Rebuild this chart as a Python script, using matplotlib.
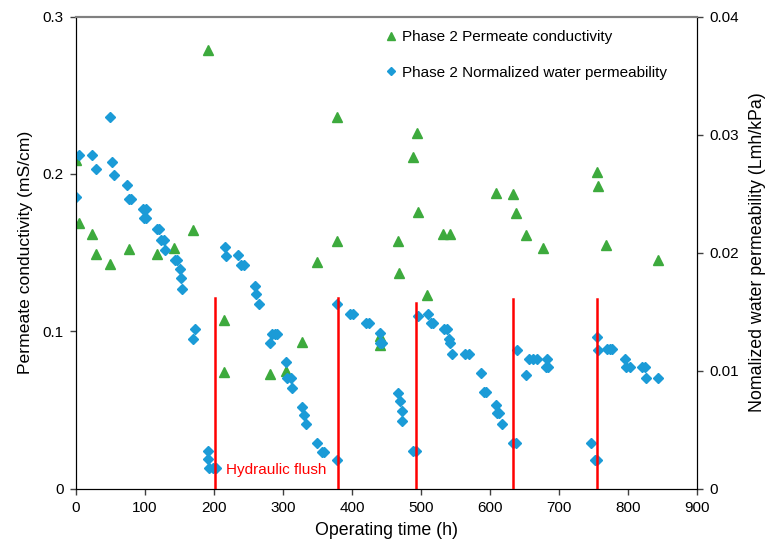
import matplotlib
matplotlib.use("Agg")
import matplotlib.pyplot as plt
from matplotlib.ticker import FuncFormatter, MultipleLocator

plt.rcParams['font.family'] = ['Liberation Sans', 'DejaVu Sans']

# ==============================
# Data
# ==============================

cond_time = [0, 5, 23, 29, 49, 77, 118, 142, 170, 191, 214, 215, 281, 305, 327,
             350, 378, 379, 441, 441, 466, 468, 488, 494, 495, 509, 532, 542,
             609, 634, 638, 652, 677, 755, 757, 768, 844]
cond_value = [0.209, 0.169, 0.162, 0.149, 0.143, 0.152, 0.149, 0.153, 0.164, 0.279,
              0.107, 0.074, 0.073, 0.075, 0.093, 0.144, 0.236, 0.157, 0.097, 0.091,
              0.157, 0.137, 0.211, 0.226, 0.176, 0.123, 0.162, 0.162, 0.188, 0.187,
              0.175, 0.161, 0.153, 0.201, 0.192, 0.155, 0.145]

perm_time = [0, 5, 23, 29, 49, 52, 55, 74, 77, 80, 97, 101, 98, 102, 118, 121, 123,
             127, 129, 143, 147, 151, 152, 154, 170, 172, 191, 191, 193, 198, 203,
             216, 218, 235, 239, 243, 259, 261, 265, 281, 284, 288, 292, 305, 306,
             311, 313, 327, 330, 333, 350, 356, 360, 378, 379, 397, 401, 421, 425,
             441, 441, 444, 467, 469, 472, 473, 488, 493, 495, 510, 514, 518, 534,
             537, 541, 542, 545, 564, 569, 587, 592, 594, 609, 610, 613, 618, 634,
             638, 639, 652, 656, 663, 668, 682, 681, 684, 747, 752, 755, 755, 756,
             769, 774, 777, 795, 797, 803, 820, 824, 826, 844]
perm_value = [0.0247, 0.0283, 0.0283, 0.0271, 0.0315, 0.0277, 0.0266, 0.0257, 0.0245,
              0.0245, 0.0237, 0.0237, 0.0229, 0.0229, 0.0220, 0.0220, 0.0211, 0.0211,
              0.0202, 0.0194, 0.0194, 0.0186, 0.0178, 0.0169, 0.0127, 0.0135, 0.0032,
              0.0025, 0.0017, 0.0017, 0.0017, 0.0205, 0.0197, 0.0198, 0.0189, 0.0189,
              0.0172, 0.0165, 0.0156, 0.0123, 0.0131, 0.0131, 0.0131, 0.0107, 0.0094,
              0.0094, 0.0085, 0.0069, 0.0062, 0.0055, 0.0039, 0.0031, 0.0031, 0.0024,
              0.0156, 0.0148, 0.0148, 0.0140, 0.0140, 0.0132, 0.0123, 0.0123, 0.0081,
              0.0074, 0.0066, 0.0057, 0.0032, 0.0032, 0.0146, 0.0148, 0.0140, 0.0140,
              0.0135, 0.0135, 0.0127, 0.0123, 0.0114, 0.0114, 0.0114, 0.0098, 0.0082,
              0.0082, 0.0071, 0.0064, 0.0064, 0.0055, 0.0039, 0.0039, 0.0117, 0.0096,
              0.0110, 0.0110, 0.0110, 0.0110, 0.0103, 0.0103, 0.0039, 0.0024, 0.0024,
              0.0128, 0.0117, 0.0118, 0.0118, 0.0118, 0.0110, 0.0103, 0.0103, 0.0103,
              0.0103, 0.0094, 0.0094]

# hydraulic flush markers (time, top in mS/cm)
flush_time = [202, 380, 493, 633, 755]
flush_top = [0.1214, 0.1214, 0.1178, 0.1206, 0.1204]

GREEN = "#3daa3d"
BLUE = "#1b9bd7"

# ==============================
# Plot
# ==============================

fig = plt.figure(figsize=(7.66, 5.41), dpi=100)
ax = fig.add_axes([0.0992, 0.097, 0.8107, 0.8725])
ax2 = ax.twinx()

h1, = ax.plot(cond_time, cond_value, linestyle="none", marker="^", markersize=7,
              color=GREEN, label="Phase 2 Permeate conductivity")
h2, = ax2.plot(perm_time, perm_value, linestyle="none", marker="D", markersize=4.6,
               color=BLUE, label="Phase 2 Normalized water permeability")

for t, top in zip(flush_time, flush_top):
    ax2.plot([t, t], [0.0, top * 0.04 / 0.3], color="#ff0000", linewidth=1.8)

ax.text(218, 0.0118, "Hydraulic flush", color="#ff0000", fontsize=11, va="center")

ax.set_xlim(0, 900)
ax.set_ylim(0, 0.3)
ax2.set_ylim(0, 0.04)
ax.xaxis.set_major_locator(MultipleLocator(100))
ax.yaxis.set_major_locator(MultipleLocator(0.1))
ax2.yaxis.set_major_locator(MultipleLocator(0.01))
fmt = FuncFormatter(lambda v, p: "%g" % round(v, 4))
ax.yaxis.set_major_formatter(fmt)
ax2.yaxis.set_major_formatter(fmt)

for a in (ax, ax2):
    a.tick_params(direction="out", length=4, width=1, labelsize=11, pad=5,
                  color="#404040")
    a.spines["top"].set_color("#808080")
    a.spines["top"].set_linewidth(1.5)

ax.set_xlabel("Operating time (h)", fontsize=12.8, labelpad=5)
ax.set_ylabel("Permeate conductivity (mS/cm)", fontsize=12.6, labelpad=7)
ax2.set_ylabel("Nomalized water permeability (Lmh/kPa)", fontsize=12.8, labelpad=7)

ax2.legend(handles=[h1, h2], loc="upper left", bbox_to_anchor=(0.4976, 0.971),
           frameon=False, fontsize=11, borderaxespad=0, borderpad=0,
           handlelength=0.8, handletextpad=0.3, labelspacing=1.4, markerscale=0.85)

fig.savefig("out.png", dpi=100)
